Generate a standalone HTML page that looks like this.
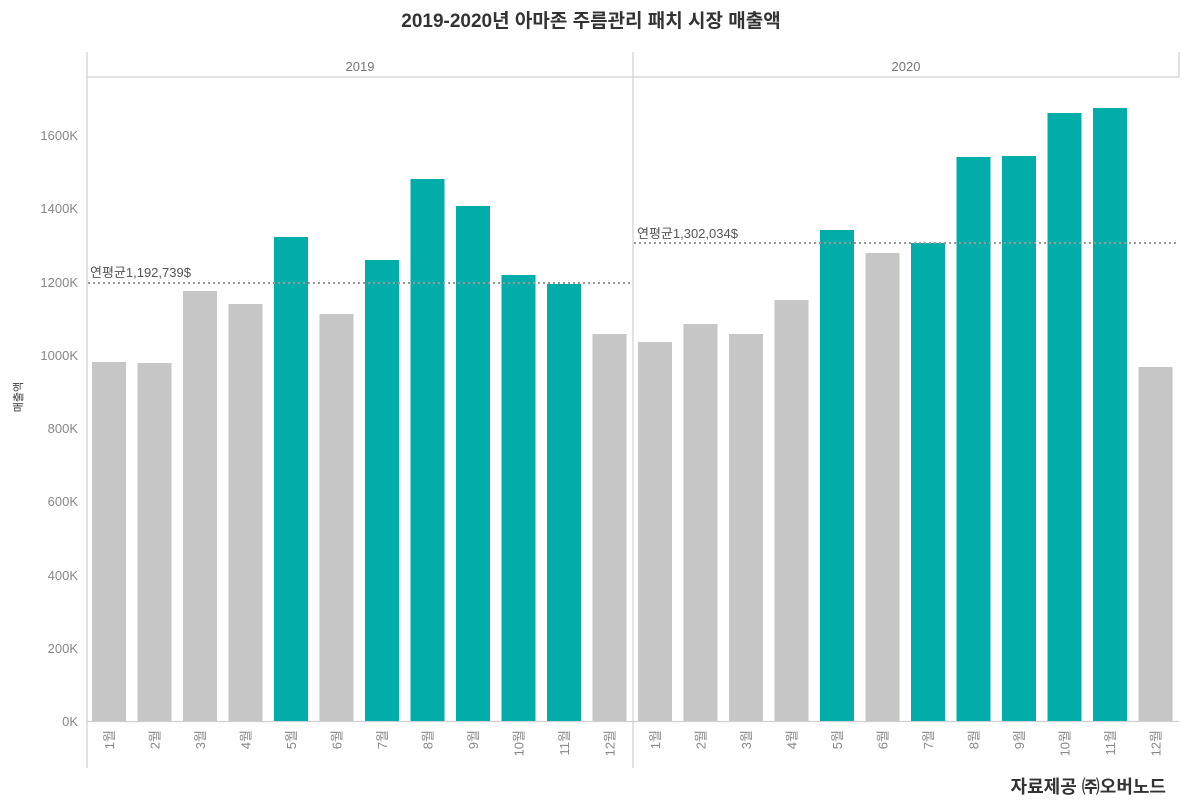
<!DOCTYPE html>
<html><head><meta charset="utf-8"><style>
body{margin:0;background:#fff;}
svg{display:block;font-family:"Liberation Sans","Noto Sans CJK KR",sans-serif;}
</style></head><body>
<svg width="1182" height="811" viewBox="0 0 1182 811">
<text x="591" y="27" text-anchor="middle" font-size="19" font-weight="bold" fill="#333">2019-2020년 아마존 주름관리 패치 시장 매출액</text>
<g stroke="#d0d0d0" stroke-width="1.2" fill="none">
<line x1="87" y1="52" x2="87" y2="768"/>
<line x1="633" y1="52" x2="633" y2="768"/>
<line x1="1179" y1="52" x2="1179" y2="77"/>
<line x1="87" y1="77" x2="1179" y2="77"/>
<line x1="87" y1="721.5" x2="1179" y2="721.5"/>
</g>
<text x="360" y="71" text-anchor="middle" font-size="13" fill="#777">2019</text>
<text x="906" y="71" text-anchor="middle" font-size="13" fill="#777">2020</text>
<g font-size="13" fill="#888" text-anchor="end">
<text x="78" y="726">0K</text><text x="78" y="653">200K</text><text x="78" y="580">400K</text><text x="78" y="506">600K</text><text x="78" y="433">800K</text><text x="78" y="360">1000K</text><text x="78" y="287">1200K</text><text x="78" y="213">1400K</text><text x="78" y="140">1600K</text>
</g>
<text transform="translate(22,397) rotate(-90)" text-anchor="middle" font-size="11" fill="#333">매출액</text>
<g>
<rect x="92" y="362" width="34" height="359" fill="#c6c6c6"/>
<rect x="137.5" y="363" width="34" height="358" fill="#c6c6c6"/>
<rect x="183" y="291" width="34" height="430" fill="#c6c6c6"/>
<rect x="228.5" y="304" width="34" height="417" fill="#c6c6c6"/>
<rect x="274" y="237" width="34" height="484" fill="#00ada9"/>
<rect x="319.5" y="314" width="34" height="407" fill="#c6c6c6"/>
<rect x="365" y="260" width="34" height="461" fill="#00ada9"/>
<rect x="410.5" y="179" width="34" height="542" fill="#00ada9"/>
<rect x="456" y="206" width="34" height="515" fill="#00ada9"/>
<rect x="501.5" y="275" width="34" height="446" fill="#00ada9"/>
<rect x="547" y="284" width="34" height="437" fill="#00ada9"/>
<rect x="592.5" y="334" width="34" height="387" fill="#c6c6c6"/>
<rect x="638" y="342" width="34" height="379" fill="#c6c6c6"/>
<rect x="683.5" y="324" width="34" height="397" fill="#c6c6c6"/>
<rect x="729" y="334" width="34" height="387" fill="#c6c6c6"/>
<rect x="774.5" y="300" width="34" height="421" fill="#c6c6c6"/>
<rect x="820" y="230" width="34" height="491" fill="#00ada9"/>
<rect x="865.5" y="253" width="34" height="468" fill="#c6c6c6"/>
<rect x="911" y="243" width="34" height="478" fill="#00ada9"/>
<rect x="956.5" y="157" width="34" height="564" fill="#00ada9"/>
<rect x="1002" y="156" width="34" height="565" fill="#00ada9"/>
<rect x="1047.5" y="113" width="34" height="608" fill="#00ada9"/>
<rect x="1093" y="108" width="34" height="613" fill="#00ada9"/>
<rect x="1138.5" y="367" width="34" height="354" fill="#c6c6c6"/>
</g>
<g font-size="13" fill="#888" text-anchor="end">
<text transform="translate(114,730) rotate(-90)">1월</text>
<text transform="translate(159.5,730) rotate(-90)">2월</text>
<text transform="translate(205,730) rotate(-90)">3월</text>
<text transform="translate(250.5,730) rotate(-90)">4월</text>
<text transform="translate(296,730) rotate(-90)">5월</text>
<text transform="translate(341.5,730) rotate(-90)">6월</text>
<text transform="translate(387,730) rotate(-90)">7월</text>
<text transform="translate(432.5,730) rotate(-90)">8월</text>
<text transform="translate(478,730) rotate(-90)">9월</text>
<text transform="translate(523.5,730) rotate(-90)">10월</text>
<text transform="translate(569,730) rotate(-90)">11월</text>
<text transform="translate(614.5,730) rotate(-90)">12월</text>
<text transform="translate(660,730) rotate(-90)">1월</text>
<text transform="translate(705.5,730) rotate(-90)">2월</text>
<text transform="translate(751,730) rotate(-90)">3월</text>
<text transform="translate(796.5,730) rotate(-90)">4월</text>
<text transform="translate(842,730) rotate(-90)">5월</text>
<text transform="translate(887.5,730) rotate(-90)">6월</text>
<text transform="translate(933,730) rotate(-90)">7월</text>
<text transform="translate(978.5,730) rotate(-90)">8월</text>
<text transform="translate(1024,730) rotate(-90)">9월</text>
<text transform="translate(1069.5,730) rotate(-90)">10월</text>
<text transform="translate(1115,730) rotate(-90)">11월</text>
<text transform="translate(1160.5,730) rotate(-90)">12월</text>
</g>
<g stroke="#999" stroke-width="2" stroke-dasharray="2,3">
<line x1="88" y1="283" x2="632" y2="283"/>
<line x1="634" y1="243" x2="1178" y2="243"/>
</g>
<text x="90" y="277" font-size="13" fill="#555">연평균1,192,739$</text>
<text x="637" y="238" font-size="13" fill="#555">연평균1,302,034$</text>
<text x="1166" y="793" text-anchor="end" font-size="18" font-weight="bold" fill="#333">자료제공 ㈜오버노드</text>
</svg>
</body></html>
